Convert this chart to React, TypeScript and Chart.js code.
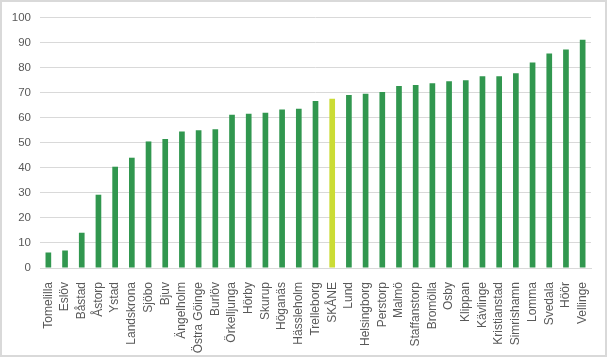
import React, { useEffect, useRef } from "react";
import { Chart, registerables } from "chart.js";

Chart.register(...registerables);

const categories = [
  "Tomelilla", "Eslöv", "Båstad", "Åstorp", "Ystad", "Landskrona", "Sjöbo", "Bjuv",
  "Ängelholm", "Östra Göinge", "Burlöv", "Örkelljunga", "Hörby", "Skurup", "Höganäs",
  "Hässleholm", "Trelleborg", "SKÅNE", "Lund", "Helsingborg", "Perstorp", "Malmö",
  "Staffanstorp", "Bromölla", "Osby", "Klippan", "Kävlinge", "Kristianstad",
  "Simrishamn", "Lomma", "Svedala", "Höör", "Vellinge",
];

const values = [
  6.2, 7.0, 14.1, 29.3, 40.5, 44.1, 50.6, 51.6, 54.6, 55.1, 55.5, 61.3, 61.7, 62.1,
  63.4, 63.7, 66.8, 67.7, 69.2, 69.7, 70.4, 72.8, 73.2, 73.9, 74.7, 75.1, 76.7, 76.7,
  77.9, 82.2, 85.8, 87.4, 91.3,
];

const highlight = "SKÅNE";
const yTicks = [0, 10, 20, 30, 40, 50, 60, 70, 80, 90, 100];

export default function App() {
  const ref = useRef<HTMLCanvasElement | null>(null);

  useEffect(() => {
    if (!ref.current) return;
    const colors = categories.map((c) => (c === highlight ? "#cbdc35" : "#31974f"));
    const chart = new Chart(ref.current, {
      type: "bar",
      data: {
        labels: categories,
        datasets: [
          {
            data: values,
            backgroundColor: colors,
            borderWidth: 0,
            barPercentage: 0.34,
            categoryPercentage: 1,
          },
        ],
      },
      options: {
        animation: false,
        responsive: false,
        maintainAspectRatio: false,
        layout: { padding: { top: 7, right: 14, left: 0, bottom: 0 } },
        plugins: { legend: { display: false }, tooltip: { enabled: false } },
        scales: {
          x: {
            grid: { display: false },
            border: { display: true, color: "#d9d9d9" },
            ticks: {
              color: "#595959",
              font: { family: "Liberation Sans", size: 12 },
              minRotation: 90,
              maxRotation: 90,
              autoSkip: false,
              padding: 6,
            },
            afterFit: (s: any) => {
              s.height = 87;
            },
          },
          y: {
            min: 0,
            max: 100,
            afterBuildTicks: (s: any) => {
              s.ticks = yTicks.map((v) => ({ value: v }));
            },
            grid: { color: "#d9d9d9", drawTicks: false },
            border: { display: false },
            ticks: {
              color: "#595959",
              font: { family: "Liberation Sans", size: 11.5 },
              padding: 9,
            },
            afterFit: (s: any) => {
              s.width = 38;
            },
          },
        },
      },
    });
    return () => chart.destroy();
  }, []);

  return (
    <div
      style={{
        position: "absolute",
        left: 0,
        top: 0,
        width: 607,
        height: 357,
        border: "2px solid #d9d9d9",
        boxSizing: "border-box",
        background: "#fff",
      }}
    >
      <canvas ref={ref} width={603} height={353} style={{ display: "block" }} />
    </div>
  );
}
